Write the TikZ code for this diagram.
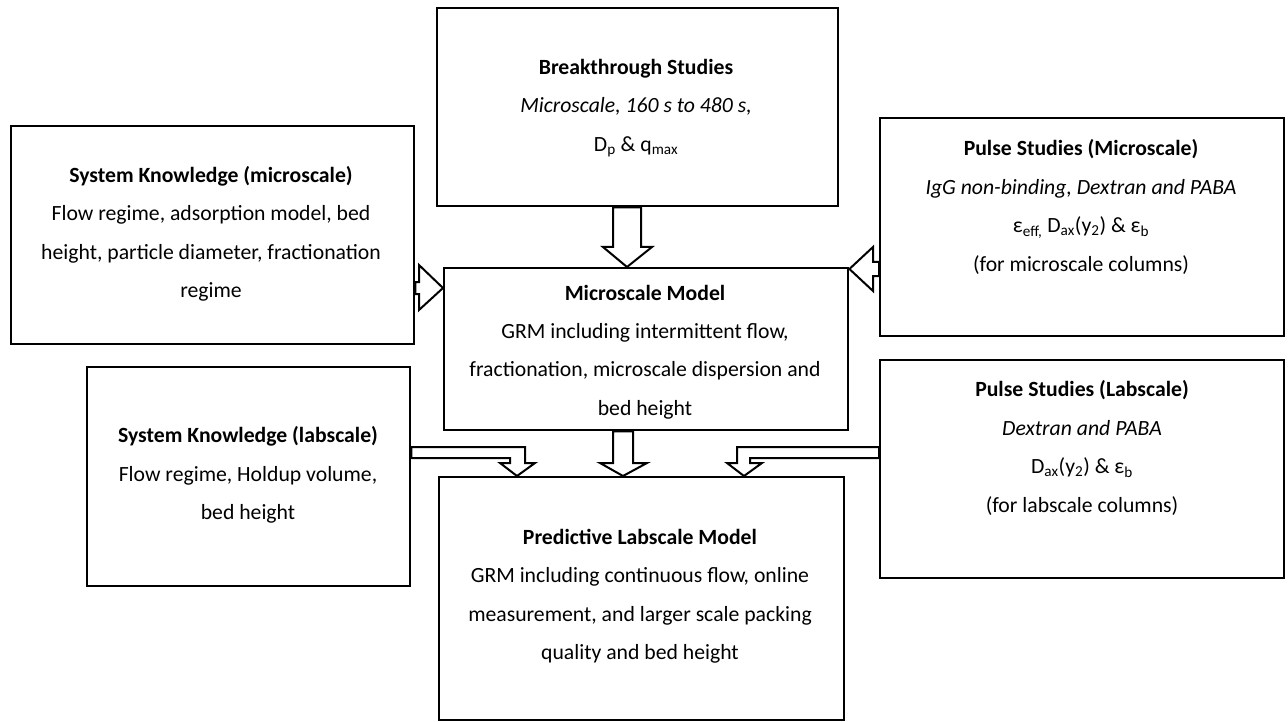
\documentclass[tikz,border=0pt]{standalone}
\usepackage{fontspec}
\setmainfont{Carlito}
\usetikzlibrary{calc}
\begin{document}
\begin{tikzpicture}[x=1pt,y=-1pt,
  box/.style={draw=black, fill=white, line width=2.4pt, rectangle, inner sep=0pt, anchor=north west},
  txt/.style={align=center, inner sep=0pt, font=\fontsize{21.7}{38.5}\selectfont},
  barrow/.style={draw=black, fill=white, line width=2pt, line join=miter}]
\useasboundingbox (0,0) rectangle (1288,722);

% boxes
\node[box, minimum width=401pt, minimum height=198pt] (bt)  at (436,7)   {};
\node[box, minimum width=403pt, minimum height=218pt] (skm) at (10,125)  {};
\node[box, minimum width=404pt, minimum height=218pt] (psm) at (879,117) {};
\node[box, minimum width=404pt, minimum height=162pt] (mm)  at (443,267) {};
\node[box, minimum width=323pt, minimum height=219pt] (skl) at (86,366)  {};
\node[box, minimum width=404pt, minimum height=218pt] (psl) at (879,359) {};
\node[box, minimum width=405pt, minimum height=243pt] (lm)  at (438,476) {};

% texts
\node[txt] (btt) at (636,108) {\textbf{Breakthrough Studies}\\ \textit{Microscale, 160 s to 480 s,}\\ D\textsubscript{p} \& q\textsubscript{max}};
\node[txt] (skmt) at (211,234) {\textbf{System Knowledge (microscale)}\\ Flow regime, adsorption model, bed\\ height, particle diameter, fractionation\\ regime};
\node[txt] (psmt) at (1081,207) {\textbf{Pulse Studies (Microscale)}\\ \textit{IgG non-binding, Dextran and PABA}\\ ε\textsubscript{eff,} D\textsubscript{ax}(y\textsubscript{2}) \& ε\textsubscript{b}\\ (for microscale columns)};
\node[txt] (mmt) at (645,352) {\textbf{Microscale Model}\\ GRM including intermittent flow,\\ fractionation, microscale dispersion and\\ bed height};
\node[txt] (sklt) at (248,475) {\textbf{System Knowledge (labscale)}\\ Flow regime, Holdup volume,\\ bed height};
\node[txt] (pslt) at (1082,448) {\textbf{Pulse Studies (Labscale)}\\ \textit{Dextran and PABA}\\ D\textsubscript{ax}(y\textsubscript{2}) \& ε\textsubscript{b}\\ (for labscale columns)};
\node[txt] (lmt) at (640,596) {\textbf{Predictive Labscale Model}\\ GRM including continuous flow, online\\ measurement, and larger scale packing\\ quality and bed height};

% block arrows
\draw[barrow] (627,0 |- mm.north) -- (603,247) -- (613,247) -- (613,0 |- bt.south)
  -- (641,0 |- bt.south) -- (641,247) -- (652,247) -- cycle;
\draw[barrow] (mm.west |- 0,288) -- (419,265) -- (419,282) -- (skm.east |- 0,282)
  -- (skm.east |- 0,294) -- (419,294) -- (419,310) -- cycle;
\draw[barrow] (mm.east |- 0,269) -- (873,247) -- (873,262) -- (psm.west |- 0,262)
  -- (psm.west |- 0,276) -- (873,276) -- (873,291) -- cycle;
\draw[barrow] (skl.east |- 0,447) -- (525,447) -- (525,463) -- (535,463)
  -- (517,0 |- lm.north) -- (500,463) -- (510,463) -- (510,458) -- (skl.east |- 0,458) -- cycle;
\draw[barrow] (613,0 |- mm.south) -- (613,463) -- (600,463) -- (623,0 |- lm.north)
  -- (647,463) -- (633,463) -- (633,0 |- mm.south) -- cycle;
\draw[barrow] (psl.west |- 0,447) -- (737,447) -- (737,463) -- (727,463)
  -- (744,0 |- lm.north) -- (762,463) -- (750,463) -- (750,458) -- (psl.west |- 0,458) -- cycle;
\end{tikzpicture}
\end{document}
